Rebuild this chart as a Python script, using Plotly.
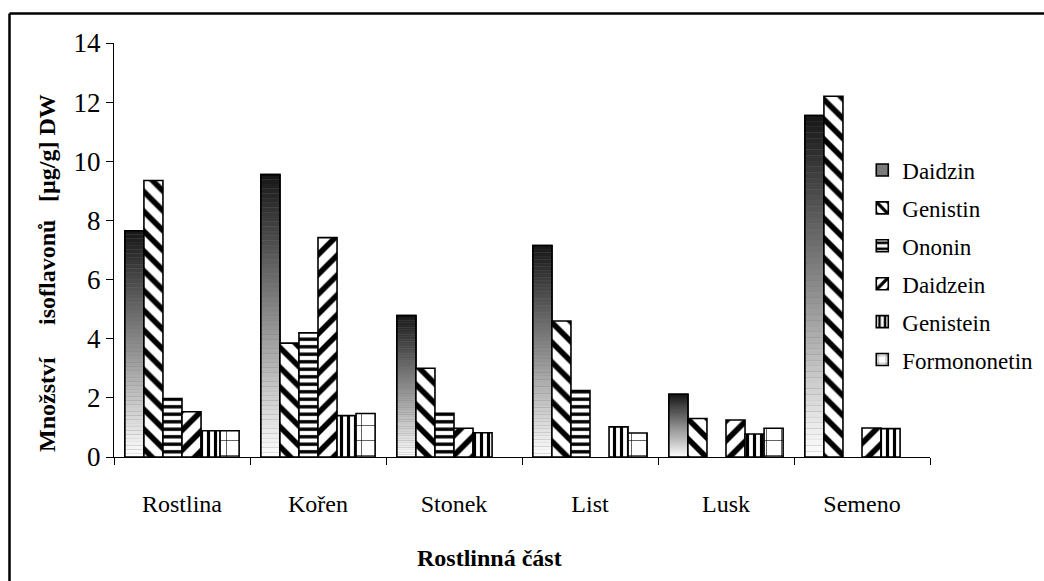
import plotly.graph_objects as go

# Isoflavone content by plant part
categories = ["Rostlina", "Kořen", "Stonek", "List", "Lusk", "Semeno"]
daidzin = [7.65, 9.55, 4.78, 7.15, 2.12, 11.55]
genistin = [9.35, 3.85, 3.0, 4.6, 1.3, 12.2]
ononin = [1.98, 4.2, 1.48, 2.25, None, None]
daidzein = [1.53, 7.42, 0.97, None, 1.25, 0.98]
genistein = [0.89, 1.4, 0.82, 1.02, 0.78, 0.96]
formononetin = [0.89, 1.47, None, 0.81, 0.97, None]

y_ticks = [0, 2, 4, 6, 8, 10, 12, 14]

FONT = "Liberation Serif"
BAR_W = 0.14
START = -0.42
OUTLINE = dict(color="black", width=1.6)

fig = go.Figure()

# Daidzin: vertical grey gradient built from stacked slices of each bar
n_slices = 60
gx, gy, gbase, gcol = [], [], [], []
for cat, v in zip(categories, daidzin):
    if v is None:
        continue
    step = v / n_slices
    for k in range(n_slices):
        t = (k + 0.5) / n_slices
        g = int(round(255 - (255 - 22) * t))
        gx.append(cat)
        gy.append(step)
        gbase.append(k * step)
        gcol.append(f"rgb({g},{g},{g})")

fig.add_trace(go.Bar(
    x=categories, y=daidzin, name="Daidzin", width=BAR_W, offset=START,
    marker=dict(color="#7a7a7a", line=OUTLINE), legendgroup="g0",
))
fig.add_trace(go.Bar(
    x=gx, y=gy, base=gbase, width=BAR_W, offset=START, showlegend=False,
    marker=dict(color=gcol, line=dict(width=0)), hoverinfo="skip",
))
fig.add_trace(go.Bar(
    x=categories, y=daidzin, width=BAR_W, offset=START, showlegend=False,
    marker=dict(color="rgba(0,0,0,0)", line=OUTLINE), hoverinfo="skip",
))

patterns = [
    (genistin, "Genistin", dict(shape="\\", size=14, solidity=0.4)),
    (ononin, "Ononin", dict(shape="-", size=7.5, solidity=0.45)),
    (daidzein, "Daidzein", dict(shape="/", size=14, solidity=0.4)),
    (genistein, "Genistein", dict(shape="|", size=7, solidity=0.45)),
    (formononetin, "Formononetin", dict(shape="+", size=15, solidity=0.08)),
]
for i, (vals, name, pat) in enumerate(patterns, start=1):
    fig.add_trace(go.Bar(
        x=categories, y=vals, name=name, width=BAR_W, offset=START + i * BAR_W,
        legendgroup=f"g{i}",
        marker=dict(
            color="white", line=OUTLINE,
            pattern=dict(fgcolor="black", bgcolor="white", fillmode="replace", **pat),
        ),
    ))

fig.update_layout(
    width=1044, height=581,
    margin=dict(l=114, r=114, t=43, b=124, autoexpand=False),
    paper_bgcolor="white", plot_bgcolor="white",
    barmode="overlay",
    font=dict(family=FONT, size=24, color="black"),
    showlegend=True,
    legend=dict(
        x=0.917, y=0.745, xanchor="left", yanchor="top",
        font=dict(family=FONT, size=23, color="black"),
        tracegroupgap=5, bgcolor="rgba(0,0,0,0)",
    ),
    xaxis=dict(
        categoryorder="array", categoryarray=categories,
        range=[-0.5, len(categories) - 0.5],
        showline=True, linecolor="black", linewidth=1,
        ticks="outside", tickson="boundaries", ticklen=7, tickcolor="black",
        ticklabelstandoff=25, showgrid=False,
        tickfont=dict(family=FONT, size=24),
    ),
    yaxis=dict(
        range=[0, 14], tickvals=y_ticks, ticktext=[str(v) for v in y_ticks],
        showline=True, linecolor="black", linewidth=1,
        ticks="outside", ticklen=7, tickcolor="black",
        showgrid=False, zeroline=False,
        tickfont=dict(family=FONT, size=27),
    ),
)

# Axis titles
fig.add_annotation(
    text="<b>Rostlinná část</b>", xref="paper", yref="paper",
    x=(489 - 114) / 816, y=(457 - 558) / 414, showarrow=False,
    xanchor="center", yanchor="middle", font=dict(family=FONT, size=24),
)
for word, cy in [("Množství", 405), ("isoflavonů", 273), ("[µg/g] DW", 148)]:
    fig.add_annotation(
        text=f"<b>{word}</b>", xref="paper", yref="paper",
        x=(47 - 114) / 816, y=(457 - cy) / 414, textangle=-90, showarrow=False,
        xanchor="center", yanchor="middle", font=dict(family=FONT, size=24),
    )

# Chart frame: left and top edges (the rest runs off the page)
frame_left = (9.5 - 114) / 816
frame_top = (457 - 13.5) / 414
frame_line = dict(color="black", width=2.5)
fig.add_shape(type="line", xref="paper", yref="paper",
              x0=frame_left, x1=frame_left, y0=(457 - 600) / 414, y1=frame_top,
              line=frame_line, layer="above")
fig.add_shape(type="line", xref="paper", yref="paper",
              x0=frame_left, x1=(1060 - 114) / 816, y0=frame_top, y1=frame_top,
              line=frame_line, layer="above")

fig.write_html("out.html")
